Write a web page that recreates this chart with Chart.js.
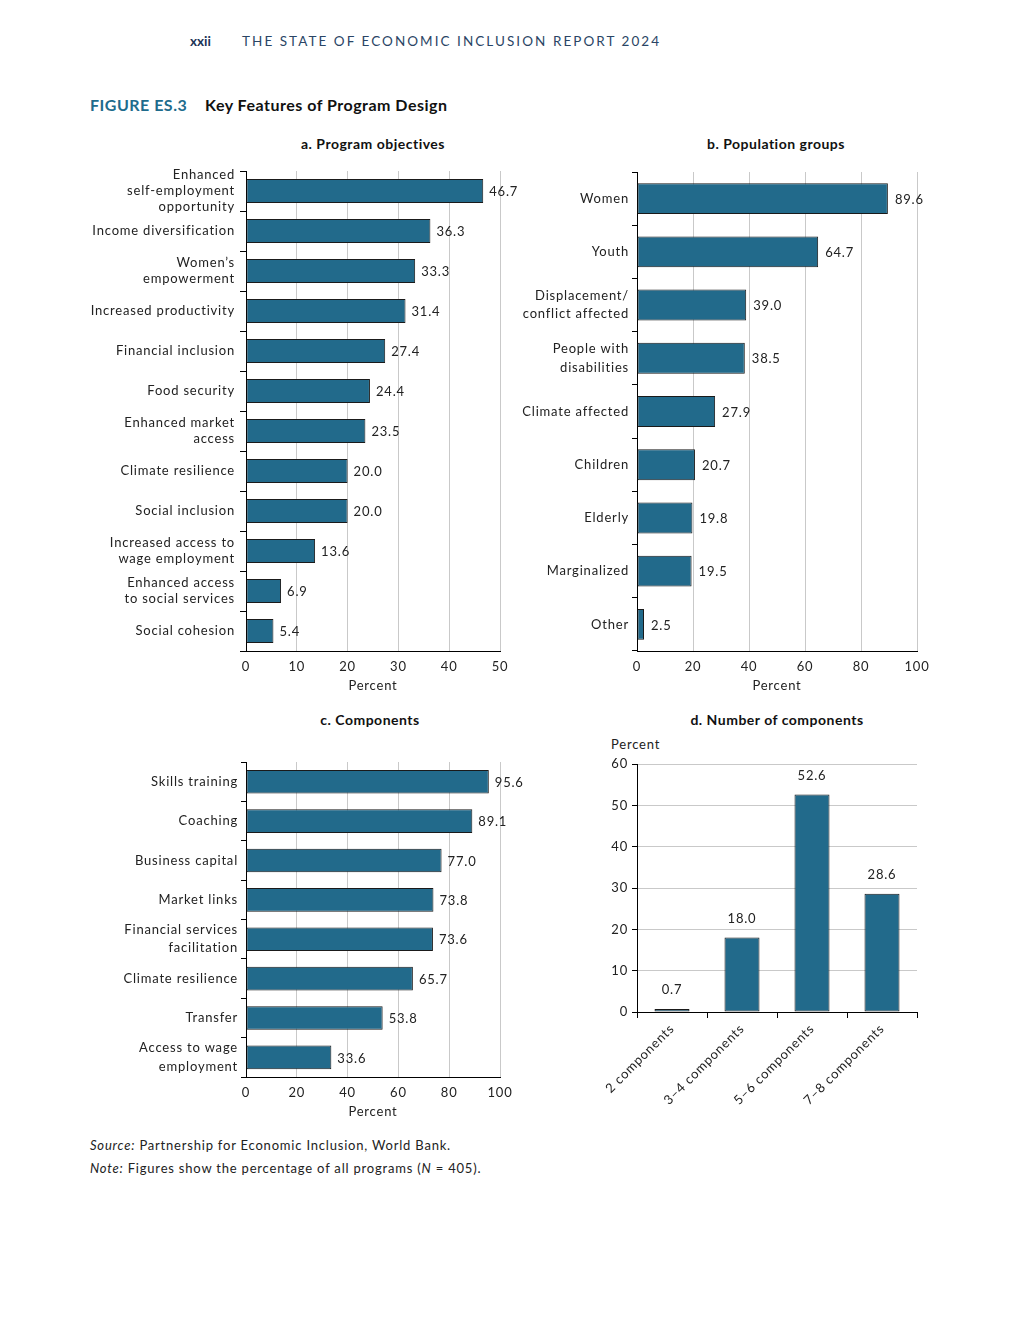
<!DOCTYPE html>
<html><head><meta charset="utf-8">
<script src="https://cdn.jsdelivr.net/npm/chart.js@4.4.1/dist/chart.umd.min.js"></script>
<style>
body{margin:0;background:#fff;width:1020px;height:1320px;position:relative;font-family:Lato,'Open Sans',sans-serif;color:#222;overflow:hidden;}
.abs{position:absolute;white-space:nowrap;}
.box{position:absolute;}
.sub{position:absolute;font-weight:700;font-size:14px;letter-spacing:0.5px;color:#111;transform:translateX(-50%);white-space:nowrap;}
</style></head><body>
<div class="abs" style="left:190px;top:33px;font-size:13.5px;font-weight:700;color:#1d3557;">xxii</div>
<div class="abs" style="left:242px;top:33px;font-size:13.5px;letter-spacing:2.05px;color:#2a4565;">THE STATE OF ECONOMIC INCLUSION REPORT 2024</div>
<div class="abs" style="left:90px;top:95px;font-size:16px;font-weight:700;letter-spacing:0.5px;color:#1e6b8c;">FIGURE ES.3</div>
<div class="abs" style="left:205px;top:95px;font-size:16px;font-weight:700;letter-spacing:0.5px;color:#111;">Key Features of Program Design</div>
<div class="sub" style="left:373px;top:135px;">a. Program objectives</div>
<div class="sub" style="left:776px;top:135px;">b. Population groups</div>
<div class="sub" style="left:370px;top:711px;">c. Components</div>
<div class="sub" style="left:777px;top:711px;">d. Number of components</div>
<div class="abs" style="left:611px;top:736px;font-size:13px;letter-spacing:0.8px;color:#222;">Percent</div>
<div class="abs" style="left:90px;top:1137px;font-size:13px;letter-spacing:0.8px;color:#222;"><i>Source:</i> Partnership for Economic Inclusion, World Bank.</div>
<div class="abs" style="left:90px;top:1160px;font-size:13px;letter-spacing:0.8px;color:#222;"><i>Note:</i> Figures show the percentage of all programs (<i>N</i> = 405).</div>

<div class="box" id="ba" style="left:60px;top:160px;width:470px;height:545px;"><canvas id="ca"></canvas></div>
<div class="box" id="bb" style="left:500px;top:160px;width:460px;height:545px;"><canvas id="cb"></canvas></div>
<div class="box" id="bc" style="left:60px;top:740px;width:470px;height:390px;"><canvas id="cc"></canvas></div>
<div class="box" id="bd" style="left:560px;top:735px;width:400px;height:395px;"><canvas id="cd"></canvas></div>

<script>
// ---- data ----
const objectivesLabels = [["Enhanced","self-employment","opportunity"],"Income diversification",["Women’s","empowerment"],"Increased productivity","Financial inclusion","Food security",["Enhanced market","access"],"Climate resilience","Social inclusion",["Increased access to","wage employment"],["Enhanced access","to social services"],"Social cohesion"];
const objectivesValues = [46.7,36.3,33.3,31.4,27.4,24.4,23.5,20.0,20.0,13.6,6.9,5.4];
const objectivesTicks = [0,10,20,30,40,50];

const groupLabels = ["Women","Youth",["Displacement/","conflict affected"],["People with","disabilities"],"Climate affected","Children","Elderly","Marginalized","Other"];
const groupValues = [89.6,64.7,39.0,38.5,27.9,20.7,19.8,19.5,2.5];
const groupTicks = [0,20,40,60,80,100];

const componentLabels = ["Skills training","Coaching","Business capital","Market links",["Financial services","facilitation"],"Climate resilience","Transfer",["Access to wage","employment"]];
const componentValues = [95.6,89.1,77.0,73.8,73.6,65.7,53.8,33.6];
const componentTicks = [0,20,40,60,80,100];

const countLabels = ["2 components","3–4 components","5–6 components","7–8 components"];
const countValues = [0.7,18.0,52.6,28.6];
const countTicks = [0,10,20,30,40,50,60];

// ---- styles ----
const BAR = '#226a8b';
const EDGE = '#1a1a1a';
const GRID = '#c9c9c9';
const TXT = '#222';
const FONT = 'Lato';
const SPACING = '0.8px';
Chart.defaults.font.family = FONT;
Chart.defaults.font.size = 13;
Chart.defaults.color = TXT;
Chart.defaults.animation = false;

Chart.register({
  id:'letterSpacing',
  beforeDraw(chart){ chart.ctx.letterSpacing = SPACING; }
});

const valueLabels = {
  id:'valueLabels',
  afterDatasetsDraw(chart, args, opts){
    const ctx = chart.ctx;
    const meta = chart.getDatasetMeta(0);
    const vals = chart.data.datasets[0].data;
    ctx.save();
    ctx.letterSpacing = SPACING;
    ctx.font = '13px ' + FONT;
    ctx.fillStyle = TXT;
    ctx.textBaseline = 'middle';
    meta.data.forEach((bar,i)=>{
      const t = vals[i].toFixed(1);
      if (chart.options.indexAxis === 'y') { ctx.textAlign='left'; ctx.fillText(t, bar.x + opts.gap, bar.y + 1); }
      else { ctx.textAlign='center'; ctx.fillText(t, bar.x, bar.y - opts.gap); }
    });
    ctx.restore();
  }
};

function hbar(id, labels, values, ticks, o){
  const max = ticks[ticks.length-1];
  const step = ticks[1]-ticks[0];
  return new Chart(document.getElementById(id), {
    type:'bar',
    data:{labels, datasets:[{data:values, backgroundColor:BAR, borderColor:EDGE, borderWidth:1, borderSkipped:false, barPercentage:o.bp, categoryPercentage:1}]},
    options:{
      indexAxis:'y', responsive:true, maintainAspectRatio:false,
      layout:{padding:o.pad},
      plugins:{legend:{display:false}, tooltip:{enabled:false}, valueLabels:{gap:o.gap}},
      scales:{
        x:{min:0,max:max,
           ticks:{stepSize:step, padding:8, color:TXT, font:{size:13}},
           grid:{color:GRID, drawTicks:false, lineWidth:1},
           border:{color:'#000', width:1},
           title:{display:true, text:'Percent', color:TXT, font:{size:13}, padding:{top:0,bottom:7}},
           afterFit(s){ s.height = 50; s.paddingLeft = 0; s.paddingRight = 0; }
        },
        y:{
           ticks:{padding:o.tp, color:TXT, font:{size:13, lineHeight:o.lh}, autoSkip:false},
           grid:{offset:true, drawOnChartArea:false, tickLength:o.tl, tickColor:'#000'},
           border:{color:'#000', width:1},
           afterFit(s){ s.width = o.yw; s.paddingTop = 0; s.paddingBottom = 0; }
        }
      }
    },
    plugins:[valueLabels]
  });
}

hbar('ca', objectivesLabels, objectivesValues, objectivesTicks,
  {bp:0.6, gap:6, tp:5, tl:6, lh:1.22, yw:186, pad:{left:0,right:30,top:11,bottom:4}});
hbar('cb', groupLabels, groupValues, groupTicks,
  {bp:0.58, gap:7, tp:3, tl:5, lh:1.4, yw:137, pad:{left:0,right:43,top:12,bottom:4}});
hbar('cc', componentLabels, componentValues, componentTicks,
  {bp:0.6, gap:6, tp:3, tl:5, lh:1.4, yw:186, pad:{left:0,right:30,top:22,bottom:3}});

new Chart(document.getElementById('cd'), {
  type:'bar',
  data:{labels:countLabels, datasets:[{data:countValues, backgroundColor:BAR, borderColor:EDGE, borderWidth:1, borderSkipped:false, barPercentage:0.5, categoryPercentage:1}]},
  options:{
    responsive:true, maintainAspectRatio:false,
    layout:{padding:{left:0,right:43,top:29,bottom:3}},
    plugins:{legend:{display:false}, tooltip:{enabled:false}, valueLabels:{gap:19}},
    scales:{
      x:{
        ticks:{minRotation:45, maxRotation:45, padding:3, color:TXT, font:{size:13}, autoSkip:false},
        grid:{offset:true, drawOnChartArea:false, tickLength:6, tickColor:'#000'},
        border:{color:'#000', width:1},
        afterFit(s){ s.height = 115; s.paddingLeft = 0; s.paddingRight = 0; }
      },
      y:{min:0, max:countTicks[countTicks.length-1],
        ticks:{stepSize:countTicks[1]-countTicks[0], padding:4, color:TXT, font:{size:13}},
        grid:{color:GRID, tickLength:5, tickColor:'#000'},
        border:{color:'#000', width:1},
        afterFit(s){ s.width = 77; s.paddingTop = 0; s.paddingBottom = 0; }
      }
    }
  },
  plugins:[valueLabels]
});
</script>
</body></html>
